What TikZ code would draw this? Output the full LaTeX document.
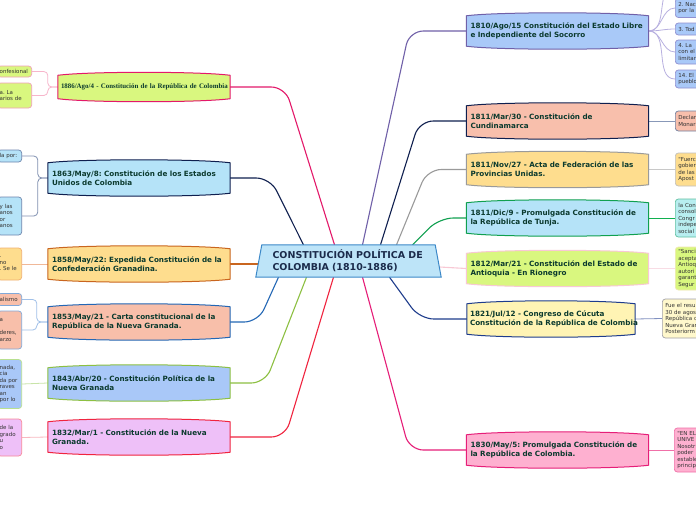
\documentclass[tikz,border=0pt]{standalone}
\usepackage{fontspec}
\newfontfamily\dejavu{DejaVu Sans}
\newfontfamily\libserif{Liberation Serif}
\usetikzlibrary{positioning,calc,backgrounds}
\frenchspacing
\definecolor{txtgreen}{HTML}{0B3A2E}
\definecolor{txtnavy}{HTML}{1B2B4B}
\definecolor{txtgray}{HTML}{333333}
\definecolor{ctrfill}{HTML}{BDE4F8}
\definecolor{ctrline}{HTML}{3C88C8}
% branch fills and borders
\definecolor{fl1886}{HTML}{D9F77F}\definecolor{ln1886}{HTML}{E3196A}
\definecolor{fl1863}{HTML}{B5E3F8}\definecolor{ln1863}{HTML}{0F1F4F}
\definecolor{fl1858}{HTML}{FEDD8E}\definecolor{ln1858}{HTML}{C9651F}
\definecolor{fl1853}{HTML}{F8BFAA}\definecolor{ln1853}{HTML}{2367B5}
\definecolor{fl1843}{HTML}{A9C8F8}\definecolor{ln1843}{HTML}{8DC042}
\definecolor{fl1832}{HTML}{EEC0F8}\definecolor{ln1832}{HTML}{F0243F}
\definecolor{fl1810}{HTML}{A9C9F8}\definecolor{ln1810}{HTML}{7060A8}
\definecolor{fl1811a}{HTML}{F8BFAC}\definecolor{ln1811a}{HTML}{0F1F4F}
\definecolor{fl1811b}{HTML}{FEDD8E}\definecolor{ln1811b}{HTML}{9A9A9A}
\definecolor{fl1811c}{HTML}{B5E3F8}\definecolor{ln1811c}{HTML}{10A050}
\definecolor{fl1812}{HTML}{D9F77F}\definecolor{ln1812}{HTML}{F8C8D4}
\definecolor{fl1821}{HTML}{FFF4B4}\definecolor{ln1821}{HTML}{1E3C8C}
\definecolor{fl1830}{HTML}{FEB0D0}\definecolor{ln1830}{HTML}{E61E78}
% leaf links and borders
\definecolor{k1886}{HTML}{F7B5CB}\definecolor{lb1886}{HTML}{F0A0B8}
\definecolor{k1863}{HTML}{8090B0}\definecolor{lb1863}{HTML}{6D85AD}
\definecolor{k1858}{HTML}{F0B898}\definecolor{lb1858}{HTML}{F0B070}
\definecolor{k1853}{HTML}{A0C0E8}\definecolor{lb1853}{HTML}{80A8D8}
\definecolor{k1843}{HTML}{C8E4A8}\definecolor{lb1843}{HTML}{B8E090}
\definecolor{k1832}{HTML}{F8B8C0}\definecolor{lb1832}{HTML}{F88898}
\definecolor{k1810}{HTML}{B8B0E0}\definecolor{lb1810}{HTML}{9090D0}
\definecolor{k1811a}{HTML}{8898B8}\definecolor{lb1811a}{HTML}{7080A0}
\definecolor{k1811b}{HTML}{C8C8C8}\definecolor{lb1811b}{HTML}{C0C0C0}
\definecolor{k1811c}{HTML}{10B050}\definecolor{lb1811c}{HTML}{60C0A0}
\definecolor{k1812}{HTML}{F8DCE4}\definecolor{lb1812}{HTML}{F0E8B0}
\definecolor{k1821}{HTML}{8090C0}\definecolor{lb1821}{HTML}{A0A0A8}
\definecolor{k1830}{HTML}{F070A8}\definecolor{lb1830}{HTML}{F070A8}
\definecolor{lf1811c}{HTML}{B8EEF0}
\definecolor{lf1821}{HTML}{FFF8CC}

\begin{document}
\begin{tikzpicture}[x=1pt, y=-1pt,
    ctrbox/.style={minimum width=178pt, minimum height=32pt, text width=152pt, inner xsep=13pt,
              align=left, text=txtnavy, font=\dejavu\bfseries\fontsize{9.5}{12}\selectfont},
    br/.style={text width=174pt, inner xsep=4pt, inner ysep=2pt, minimum height=30pt,
              align=left, text=txtgreen, font=\dejavu\bfseries\fontsize{7.2}{9}\selectfont},
    lf/.style={draw, rounded corners=3pt, line width=0.7pt, inner ysep=1pt, align=left,
              text=txtgray, font=\dejavu\fontsize{5.5}{6.5}\selectfont},
    lfr/.style={lf, anchor=west, text width=40pt, inner xsep=3pt},
    lfl/.style={lf, anchor=east, text width=20pt, inner xsep=2pt},
    main/.style={line width=1.1pt, rounded corners=14pt},
    sub/.style={line width=0.8pt}]
\useasboundingbox (0,0) rectangle (696,520);
\clip (0,0) rectangle (696,520);
\node[ctrbox] (ctr) at (348.5,261) {CONSTITUCIÓN POLÍTICA DE\\COLOMBIA (1810-1886)};
\node[br, text width=166pt, inner xsep=3pt, minimum height=23pt, font=\libserif\bfseries\fontsize{6.9}{9}\selectfont] (n1886) at (144,87) {\mbox{1886/Ago/4 - Constitución de la República de Colombia}};
\node[br] (n1863) at (139,178) {1863/May/8: Constitución de los Estados\\Unidos de Colombia};
\node[br] (n1858) at (139,264) {1858/May/22: Expedida Constitución de la\\Confederación Granadina.};
\node[br] (n1853) at (139,322) {1853/May/21 - Carta constitucional de la\\República de la Nueva Granada.};
\node[br] (n1843) at (139,383) {1843/Abr/20 - Constitución Política de la\\Nueva Granada};
\node[br] (n1832) at (139,437) {1832/Mar/1 - Constitución de la Nueva\\Granada.};
\node[br] (n1810) at (557.5,31) {1810/Ago/15 Constitución del Estado Libre\\e Independiente del Socorro};
\node[br] (n1811a) at (557.5,121) {1811/Mar/30 - Constitución de\\Cundinamarca};
\node[br] (n1811b) at (557.5,169.5) {1811/Nov/27 - Acta de Federación de las\\Provincias Unidas.};
\node[br] (n1811c) at (557.5,218) {1811/Dic/9 - Promulgada Constitución de\\la República de Tunja.};
\node[br] (n1812) at (557.5,268.5) {1812/Mar/21 - Constitución del Estado de\\Antioquia - En Rionegro};
\node[br, text width=162pt, inner xsep=3pt] (n1821) at (551,319) {1821/Jul/12 - Congreso de Cúcuta\\\mbox{Constitución de la República de Colombia}};
\node[br] (n1830) at (557.5,450) {1830/May/5: Promulgada Constitución de\\la República de Colombia.};
% leaves, left side
\node[lfl, text width=30pt, minimum height=11pt, fill=fl1886, draw=lb1886] (l1886a) at (32,71.5) {onfesional};
\node[lfl, text width=30pt, minimum height=25pt, fill=fl1886, draw=lb1886] (l1886b) at (32,95.5) {a. La\\arios de};
\node[lfl, minimum height=12pt, fill=fl1863, draw=lb1863] (l1863a) at (22,156) {la por:};
\node[lfl, minimum height=38pt, fill=fl1863, draw=lb1863] (l1863b) at (22,216) {y las\\anos\\or\\anos};
\node[lfl, minimum height=32pt, fill=fl1858, draw=lb1858] (l1858) at (22,264) {.\\no\\. Se le};
\node[lfl, minimum height=12pt, fill=fl1853, draw=lb1853] (l1853a) at (22,299.5) {alismo};
\node[lfl, minimum height=38pt, fill=fl1853, draw=lb1853] (l1853b) at (22,330) {a\\\mbox{}\\deres,\\arzo};
\node[lfl, minimum height=49pt, fill=fl1843, draw=lb1843] (l1843) at (22,384) {nada,\\cia\\da por\\raves\\an\\por lo};
\node[lfl, minimum height=37pt, fill=fl1832, draw=lb1832] (l1832) at (22,437.5) {de la\\grado\\u\\o};
% leaves, right side
\coordinate (l1810z) at (675,-14);
\node[lfr, minimum height=19pt, fill=fl1810, draw=lb1810] (l1810a) at (675,8) {2. Nac\\por la};
\node[lfr, minimum height=12pt, fill=fl1810, draw=lb1810] (l1810b) at (675,29) {3. Tod};
\node[lfr, minimum height=24pt, fill=fl1810, draw=lb1810] (l1810c) at (675,52) {4. La\\con el\\limitan};
\node[lfr, minimum height=18pt, fill=fl1810, draw=lb1810] (l1810d) at (675,79) {14. El\\pueblo};
\node[lfr, minimum height=20pt, fill=fl1811a, draw=lb1811a] (l1811a) at (675,121) {Declar\\Monar};
\node[lfr, minimum height=33pt, fill=fl1811b, draw=lb1811b] (l1811b) at (675,169.5) {"Fuerc\\gobier\\de las\\Apost};
\node[lfr, minimum height=38pt, fill=lf1811c, draw=lb1811c] (l1811c) at (675,218) {la Con\\consol\\Congr\\indepe\\social};
\node[lfr, minimum height=43pt, fill=fl1812, draw=lb1812] (l1812) at (675,268.5) {"Sanci\\acepta\\Antioq\\autori\\garant\\Segur};
\node[lfr, minimum height=39pt, fill=lf1821, draw=lb1821] (l1821) at (662,318.5) {Fue el resu\\30 de agos\\República c\\Nueva Gran\\Posteriorm};
\node[lfr, minimum height=44pt, fill=fl1830, draw=lb1830] (l1830) at (674,450) {"EN EL\\UNIVE\\Nosotr\\poder\\estable\\princip};
\begin{scope}[on background layer]
\fill[white] (0,0) rectangle (696,520);
\draw[main, ln1886] ($(ctr.north)+(-14,0)$) -- ($(n1886.east)+(55,0)$) -- (n1886.east);
\draw[main, ln1863] ($(ctr.north)+(-45,0)$) -- ($(n1863.east)+(40,0)$) -- (n1863.east);
\draw[main, ln1858] ($(ctr.west)+(-1,3)$) -- (n1858.east);
\draw[main, ln1853] ($(ctr.south)+(-70,0)$) -- ($(n1853.east)+(28,0)$) -- (n1853.east);
\draw[main, ln1843] ($(ctr.south)+(-42,0)$) -- ($(n1843.east)+(35,0)$) -- (n1843.east);
\draw[main, ln1832] ($(ctr.south)+(-15,0)$) -- ($(n1832.east)+(55,0)$) -- (n1832.east);
\draw[main, ln1810] ($(ctr.north)+(14,0)$) -- ($(n1810.west)+(-57,0)$) -- (n1810.west);
\draw[main, ln1811a] ($(ctr.north)+(32,0)$) -- ($(n1811a.west)+(-47,0)$) -- (n1811a.west);
\draw[main, ln1811b] ($(ctr.north)+(48,0)$) -- ($(n1811b.west)+(-39,0)$) -- (n1811b.west);
\draw[main, ln1811c] ($(ctr.north)+(64,0)$) -- ($(n1811c.west)+(-27,0)$) -- (n1811c.west);
\draw[main, ln1812] ($(ctr.east)+(2,6)$) -- (n1812.west);
\draw[main, ln1821] ($(ctr.south)+(41,0)$) -- ($(n1821.west)+(-47,0)$) -- (n1821.west);
\draw[main, ln1830] ($(ctr.south)+(14,0)$) -- ($(n1830.west)+(-57,0)$) -- (n1830.west);
\foreach \l in {l1886a,l1886b}
  \draw[sub, k1886, rounded corners=4pt] (n1886.west) -- ++(-10,0) |- (\l.east);
\foreach \l in {l1863a,l1863b}
  \draw[sub, k1863, rounded corners=4pt] (n1863.west) -- ++(-10,0) |- (\l.east);
\foreach \l in {l1853a,l1853b}
  \draw[sub, k1853, rounded corners=4pt] (n1853.west) -- ++(-11,0) |- (\l.east);
\draw[sub, k1858] (n1858.west) -- (l1858.east);
\draw[sub, k1843] (n1843.west) -- (l1843.east);
\draw[sub, k1832] (n1832.west) -- (l1832.east);
\foreach \l in {l1810z,l1810a.west,l1810b.west,l1810c.west,l1810d.west}
  \draw[sub, k1810] (n1810.east) to[out=0, in=180] (\l);
\foreach \n in {1811a,1811b,1811c,1812,1821,1830}
  \draw[sub, k\n] (n\n.east) -- (l\n.west);
\draw[line width=1pt, draw=ctrline, fill=ctrfill] ($(ctr.north west)+(2.5,0)$) -- ($(ctr.north east)+(-2.5,0)$)
  -- ($(ctr.south east)+(3.5,0)$) -- ($(ctr.south west)+(-3.5,0)$) -- cycle;
\foreach \n in {1886,1863,1858,1853,1843,1832,1810,1811a,1811b,1811c,1812,1821,1830}
  \draw[line width=1pt, draw=ln\n, fill=fl\n] (n\n.north west)
    .. controls ($(n\n.north west)+(30,-4)$) and ($(n\n.north east)+(-30,-4)$) .. (n\n.north east)
    -- (n\n.south east)
    .. controls ($(n\n.south east)+(-30,4)$) and ($(n\n.south west)+(30,4)$) .. (n\n.south west) -- cycle;
\end{scope}
\end{tikzpicture}
\end{document}
